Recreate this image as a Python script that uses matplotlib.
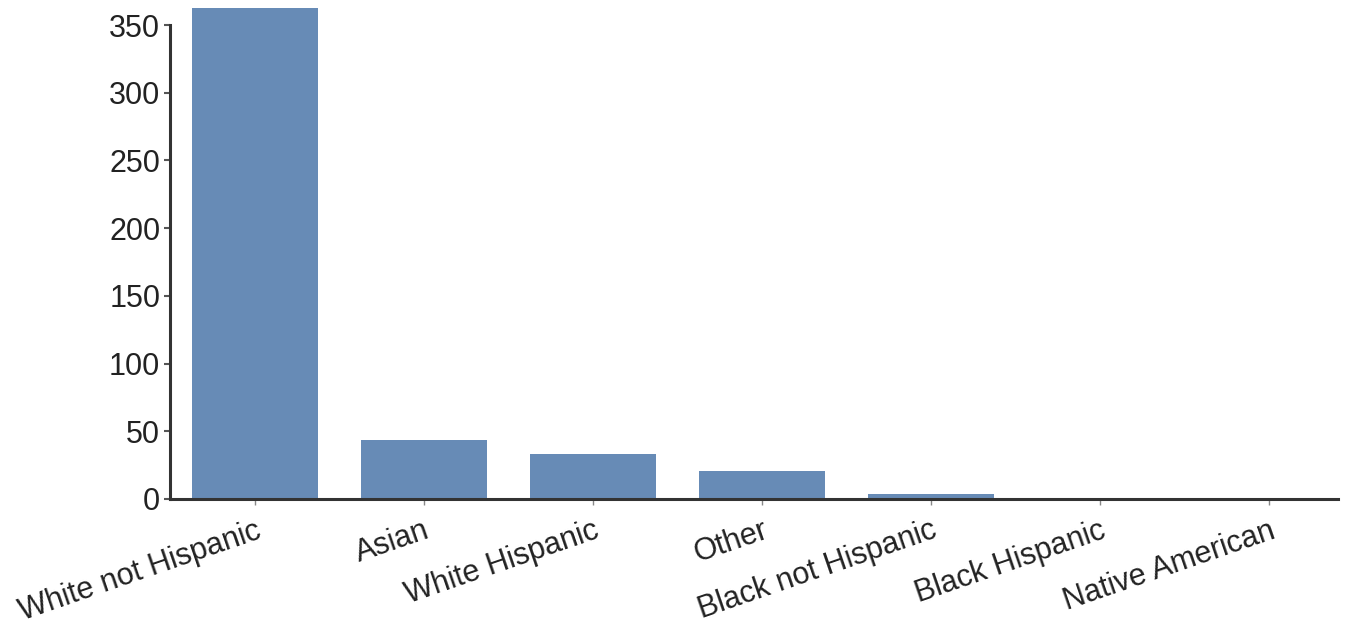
import matplotlib
matplotlib.use("Agg")
import matplotlib.pyplot as plt

categories = ["White not Hispanic", "Asian", "White Hispanic", "Other",
              "Black not Hispanic", "Black Hispanic", "Native American"]
counts = [362.5, 43.5, 33.5, 20.5, 3.7, 0, 0]
yticks = [0, 50, 100, 150, 200, 250, 300, 350]

plt.rcParams['font.family'] = ['Liberation Sans', 'DejaVu Sans']

fig = plt.figure(figsize=(13.64, 6.26), dpi=100)
ax = fig.add_axes([0.1246, 0.2029, 0.981 - 0.1246, 1 - 0.2029])

x = list(range(len(categories)))
ax.bar(x, counts, width=0.745, color="#678bb6")

ax.set_xlim(-0.503, 6.41)
ax.set_ylim(0, 368.5)
ax.set_yticks(yticks)
ax.set_xticks(x)
ax.set_xticklabels(categories, rotation=19, ha='right', rotation_mode='anchor')

for side in ['top', 'right']:
    ax.spines[side].set_visible(False)
for side in ['left', 'bottom']:
    ax.spines[side].set_color('#333333')
    ax.spines[side].set_linewidth(2.2)
ax.spines['left'].set_bounds(0, 350)

ax.tick_params(axis='y', length=4, width=1.5, color='#555555', labelsize=22, pad=3, labelcolor='#222222')
ax.tick_params(axis='x', length=4, width=1, color='#888888', labelsize=22, pad=8, labelcolor='#222222')

fig.savefig("out.png", dpi=100)
